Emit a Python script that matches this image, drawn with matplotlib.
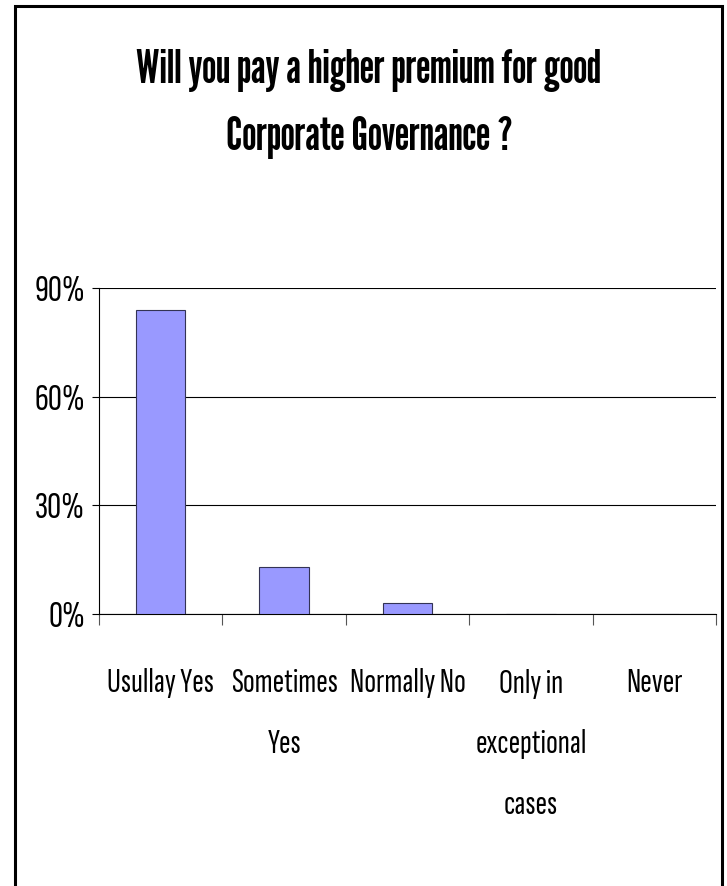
import matplotlib
matplotlib.use("Agg")
import matplotlib.pyplot as plt
from matplotlib.patches import Rectangle
from matplotlib.ticker import FixedLocator, FuncFormatter
from matplotlib import transforms

categories = ["Usullay Yes", "Sometimes\nYes", "Normally No", "Only in\nexceptional\ncases", "Never"]
values = [84, 13, 3, 0, 0]
yticks = [0, 30, 60, 90]
title_lines = ["Will you pay a higher premium for good", "Corporate Governance ?"]

FONTS = ['Sofia Sans Extra Condensed', 'Barlow Condensed', 'DejaVu Sans']
TITLE_FONTS = ['League Gothic', 'Barlow Condensed', 'DejaVu Sans']
plt.rcParams['font.family'] = FONTS

fig = plt.figure(figsize=(7.27, 8.86), dpi=100)
fig.patch.set_facecolor('white')
fig.add_artist(Rectangle((15/727, -0.01), (722-15)/727, 1 - 6/886 + 0.01,
                         transform=fig.transFigure, fill=False, edgecolor='black', lw=2.2))

ax = fig.add_axes([99/727, 1-614/886, (716-99)/727, (614-288)/886])
x = list(range(len(categories)))
ax.bar(x, values, width=0.4, color='#9999FF', edgecolor='#333355', linewidth=0.8, zorder=3)
ax.set_xlim(-0.5, len(categories)-0.5)
ax.set_ylim(0, 90)
ax.yaxis.set_major_locator(FixedLocator(yticks))
ax.yaxis.set_major_formatter(FuncFormatter(lambda v, p: f"{int(v)}%"))
ax.grid(axis='y', color='black', lw=0.8, zorder=0)
for s in ['top', 'right']:
    ax.spines[s].set_visible(False)
ax.spines['left'].set_color('black')
ax.spines['bottom'].set_color('black')
ax.set_xticks([i - 0.5 for i in range(len(categories)+1)])
ax.set_xticklabels([])
ax.tick_params(axis='x', direction='out', length=8, width=0.8, color='#555555')
ax.tick_params(axis='y', direction='out', length=5, width=0.8, labelsize=28, pad=5)

# va='baseline' aligns the last line's baseline; first-line baseline at 692 px, 61 px per line
trans = transforms.blended_transform_factory(ax.transData, ax.transAxes)
for i, c in enumerate(categories):
    nlines = c.count("\n") + 1
    last_base = 692 + (nlines - 1) * 61
    ax.text(i, (614 - last_base)/326, c, ha='center', va='baseline', fontsize=25,
            linespacing=2.28, transform=trans)

for j, line in enumerate(title_lines):
    fig.text(369/727, 1 - (83 + 67*j)/886, line, ha='center', va='baseline', fontsize=33,
             family=TITLE_FONTS)

fig.savefig("out.png", dpi=100)
